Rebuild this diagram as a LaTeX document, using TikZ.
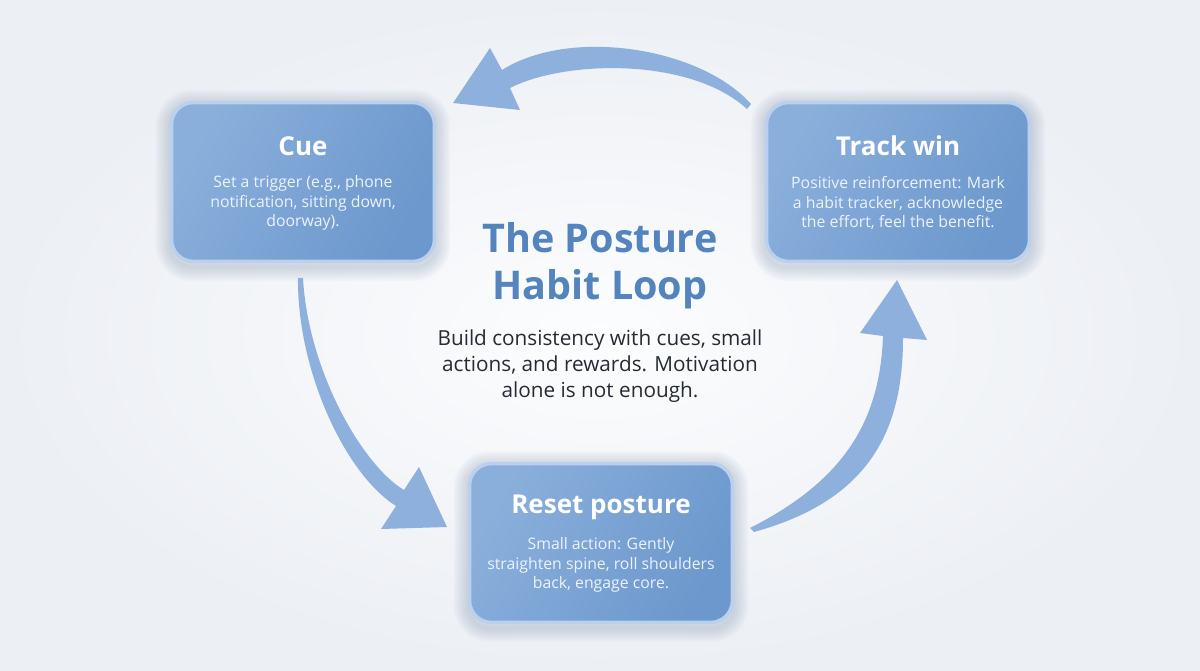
\documentclass[tikz,border=0pt]{standalone}
\usepackage{fontspec}
\setmainfont{Open Sans}
\usetikzlibrary{backgrounds}
\definecolor{HlBgEdge}{RGB}{236,239,244}
\definecolor{HlBgMid}{RGB}{252,253,254}
\definecolor{HlBoxLight}{RGB}{138,175,219}
\definecolor{HlBoxDark}{RGB}{108,152,205}
\definecolor{HlBorder}{RGB}{186,208,236}
\definecolor{HlShade}{RGB}{110,132,165}
\definecolor{HlArrow}{RGB}{141,176,220}
\definecolor{HlTitle}{RGB}{84,132,190}
\definecolor{HlInk}{RGB}{38,43,52}
\definecolor{HlBoxText}{RGB}{236,242,250}
\tikzset{
  hl/box/.style={
    draw=HlBorder,
    line width=2pt,
    rounded corners=0.44cm,
    left color=HlBoxLight,
    right color=HlBoxDark,
    shading angle=60,
    minimum width=5.26cm,
    minimum height=3.18cm
  },
  hl/glow/.style={draw=HlShade, opacity=0.03, rounded corners=0.44cm},
  hl/boxtitle/.style={font=\bfseries\fontsize{14.8}{18}\selectfont, text=white},
  hl/boxtext/.style={font=\fontsize{9}{11.3}\selectfont, text=HlBoxText, align=center},
  hl/title/.style={font=\bfseries\fontsize{22.5}{27}\selectfont, text=HlTitle, align=center},
  hl/lead/.style={font=\fontsize{11.8}{14.7}\selectfont, text=HlInk, align=center},
  hl/arrow/.style={fill=HlArrow, draw=none}
}
\begin{document}
\begin{tikzpicture}[x=0.02cm,y=0.02cm]
  % stages
  \node[hl/box] (cue) at (303,488) {};
  \node[hl/boxtitle] (cuetitle) at (303,524) {Cue};
  \node[hl/boxtext] (cuetext) at (303,467) {Set a trigger (e.g., phone\\notification, sitting down,\\doorway).};
  \node[hl/box] (track) at (898,488) {};
  \node[hl/boxtitle] (tracktitle) at (898,524) {Track win};
  \node[hl/boxtext] (tracktext) at (898,467) {Positive reinforcement: Mark\\a habit tracker, acknowledge\\the effort, feel the benefit.};
  \node[hl/box] (reset) at (601,127) {};
  \node[hl/boxtitle] (resettitle) at (601,163) {Reset posture};
  \node[hl/boxtext] (resettext) at (601,105) {Small action: Gently\\straighten spine, roll shoulders\\back, engage core.};
  % centre
  \node[hl/title] (title) at (600,404) {The Posture\\Habit Loop};
  \node[hl/lead] (lead) at (600,304) {Build consistency with cues, small\\actions, and rewards. Motivation\\alone is not enough.};
  % background and soft glow behind the stages
  \begin{scope}[on background layer]
    \path[use as bounding box, inner color=HlBgMid, outer color=HlBgEdge] (0,0) rectangle (1200,670);
    \foreach \stage in {cue,track,reset}
      \foreach \g in {1,...,9}
        \draw[hl/glow, line width=\g*1.8pt] ([yshift=-2pt]\stage.south west) rectangle ([yshift=-2pt]\stage.north east);
  \end{scope}
  % track win -> cue
  \path[hl/arrow] (751,566) .. controls (700,623) and (570,643) .. (502,600)
    -- (490,622) -- (453,567) -- (520,560) -- (510,582)
    .. controls (565,610) and (690,613) .. (747,561) -- cycle;
  % cue -> reset posture
  \path[hl/arrow] (298,392) .. controls (297,300) and (345,196) .. (396,164)
    -- (381,141) -- (447,143) -- (419,203) -- (404,180)
    .. controls (362,205) and (308,300) .. (303,392) -- cycle;
  % reset posture -> track win
  \path[hl/arrow] (750,142) .. controls (845,190) and (880,250) .. (883,334)
    -- (860,337) -- (897,390) -- (927,330) -- (903,332)
    .. controls (903,240) and (870,170) .. (754,138) -- cycle;
\end{tikzpicture}
\end{document}
